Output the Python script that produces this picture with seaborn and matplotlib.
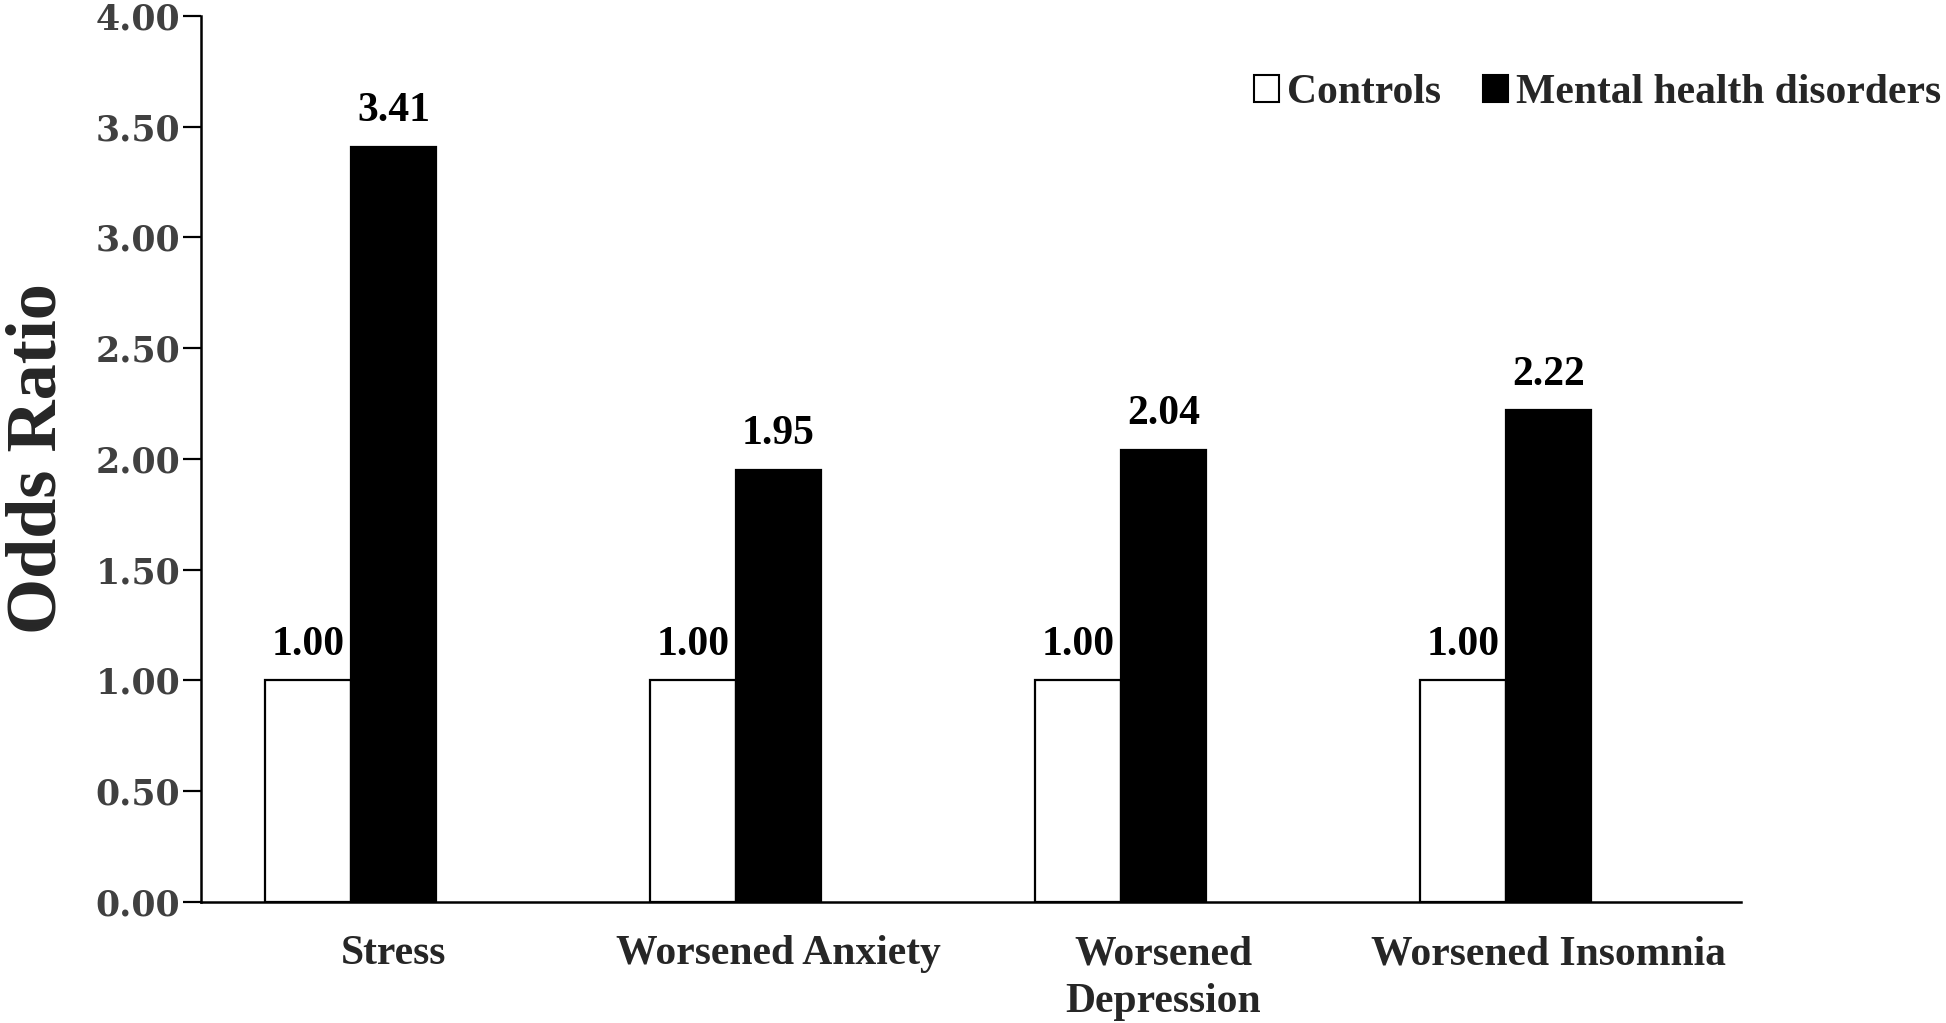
import pandas as pd
import matplotlib.pyplot as plt
from matplotlib.patches import Patch
import seaborn as sns

categories = ['Stress', 'Worsened Anxiety', 'Worsened\nDepression', 'Worsened Insomnia']
controls = [1.00, 1.00, 1.00, 1.00]
mental = [3.41, 1.95, 2.04, 2.22]
groups = ['Controls', 'Mental health disorders', 'blank']
y_ticks = [0.0, 0.5, 1.0, 1.5, 2.0, 2.5, 3.0, 3.5, 4.0]

# long table; the empty third series keeps Excel's off-centre clusters
df = pd.DataFrame({
    'category': categories * 3,
    'group': [groups[0]] * 4 + [groups[1]] * 4 + [groups[2]] * 4,
    'value': controls + mental + [0.0] * 4,
})

sns.set_theme(style='white')
plt.rcParams['font.family'] = ['Liberation Serif', 'DejaVu Serif']
plt.rcParams['font.weight'] = 'bold'

fig = plt.figure(figsize=(19.46, 10.23), dpi=100)
ax = fig.add_axes([0.1033, 0.1183, 0.7914, 0.8661])

sns.barplot(data=df, x='category', y='value', hue='group', hue_order=groups,
            palette=['white', 'black', 'white'], width=0.667, gap=0,
            edgecolor='black', linewidth=1.6, errorbar=None, legend=False, ax=ax)

for p in ax.containers[2].patches:
    p.set_visible(False)

for cont in ax.containers[:2]:
    ax.bar_label(cont, fmt='%.2f', padding=12, fontsize=30, fontweight='bold',
                 color='black')

ax.set_ylim(0, 4)
ax.set_xlim(-0.5, len(categories) - 0.5)
ax.set_yticks(y_ticks)
ax.set_yticklabels(['%.2f' % t for t in y_ticks], family='DejaVu Serif',
                   fontweight='bold', fontsize=25, color='#404040')
ax.tick_params(axis='y', direction='out', length=13, width=1.6, color='black',
               left=True, pad=2)
ax.tick_params(axis='x', length=0, pad=24)
for lab in ax.get_xticklabels():
    lab.set_fontsize(30)
    lab.set_fontweight('bold')
    lab.set_linespacing(1.35)

ax.set_xlabel('')
ax.set_ylabel('Odds Ratio', fontsize=52, fontweight='bold', labelpad=18)

sns.despine(ax=ax)
for s in ['left', 'bottom']:
    ax.spines[s].set_color('black')
    ax.spines[s].set_linewidth(1.8)

handles = [Patch(facecolor='white', edgecolor='black', linewidth=1.5),
           Patch(facecolor='black', edgecolor='black', linewidth=1.5)]
fig.legend(handles, groups[:2], loc='center right', bbox_to_anchor=(1.017, 0.909),
           ncol=2, frameon=False, handlelength=0.6, handleheight=0.6,
           handletextpad=0.2, columnspacing=1.0, prop={'weight': 'bold', 'size': 30})

fig.savefig('out.png', dpi=100, facecolor='white')
